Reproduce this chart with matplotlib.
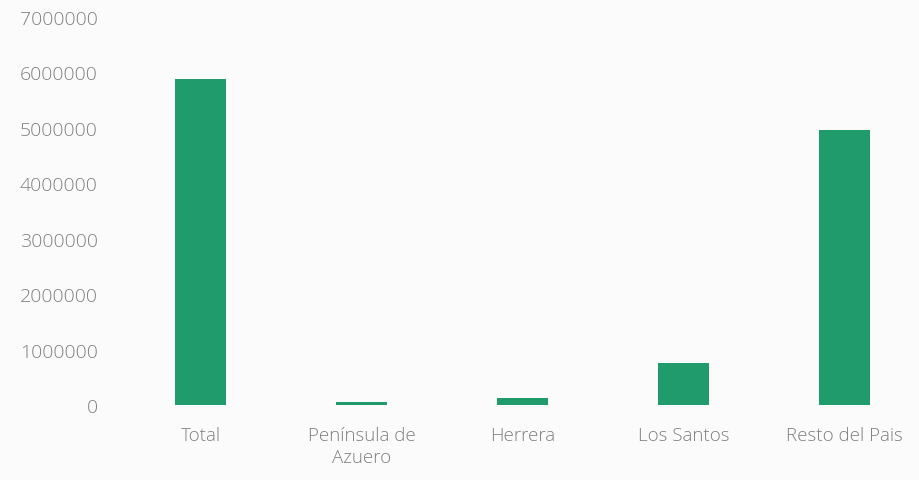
import matplotlib

matplotlib.use("Agg")
import matplotlib.pyplot as plt

categories = ["Total", "Península de\nAzuero", "Herrera", "Los Santos", "Resto del Pais"]
values = [5880000, 60000, 130000, 760000, 4960000]
y_ticks = [0, 1000000, 2000000, 3000000, 4000000, 5000000, 6000000, 7000000]

plt.rcParams["font.family"] = ["Open Sans", "DejaVu Sans"]

fig = plt.figure(figsize=(9.2, 4.81), dpi=100)
fig.patch.set_facecolor("#fbfbfb")
ax = fig.add_axes([120 / 920, 75 / 481, 800 / 920, 388 / 481])
ax.set_facecolor("#fbfbfb")

x = range(len(categories))
ax.bar(x, values, width=0.32, color="#1f9b6c")

ax.set_xlim(-0.5, 4.47)
ax.set_ylim(0, 7000000)
ax.set_yticks(y_ticks)
ax.set_yticklabels([str(v) for v in y_ticks])
ax.set_xticks(list(x))
ax.set_xticklabels(categories, linespacing=1.3)

for s in ax.spines.values():
    s.set_visible(False)
ax.tick_params(axis="y", length=0, pad=16, labelsize=14, labelcolor="#808080")
ax.tick_params(axis="x", length=0, pad=15, labelsize=13.5, labelcolor="#808080")
for lbl in ax.get_xticklabels() + ax.get_yticklabels():
    lbl.set_fontweight("light")

fig.savefig("out.png", dpi=100, facecolor=fig.get_facecolor())
